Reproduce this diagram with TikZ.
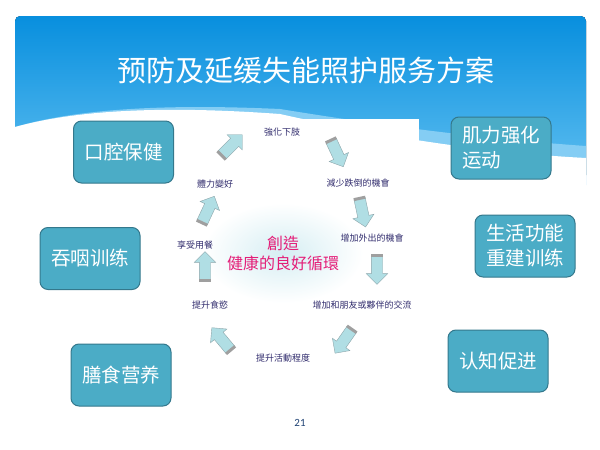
\documentclass[tikz,border=0pt]{standalone}
\usepackage{fontspec}
\usepackage{tikz}
\usetikzlibrary{shapes.arrows}
\newfontfamily\scfont{Noto Sans CJK SC}
\newfontfamily\tcfont{Noto Sans CJK TC}
\newfontfamily\numfont{Carlito}
\definecolor{hdtop}{RGB}{8,143,222}
\definecolor{hdbot}{RGB}{92,189,240}
\definecolor{hdlite}{RGB}{132,205,244}
\definecolor{boxfill}{RGB}{75,172,198}
\definecolor{boxline}{RGB}{52,120,140}
\definecolor{lblc}{RGB}{50,45,110}
\definecolor{pinkc}{RGB}{228,30,120}
\definecolor{arwc}{RGB}{176,222,228}
\definecolor{arwline}{RGB}{140,165,170}
\definecolor{glow}{RGB}{214,238,243}
\definecolor{numc}{RGB}{30,65,115}
\tikzset{box/.style = {draw=boxline, fill=boxfill, line width=1pt, rounded corners=8pt,
                       text=white, font=\scfont\fontsize{19.5}{25}\selectfont,
                       minimum width=100pt, minimum height=62pt, inner sep=0pt}}
\tikzset{lbl/.style = {text=lblc, font=\tcfont\fontsize{9}{11}\selectfont, inner sep=1pt}}
\tikzset{cyc/.style = {single arrow, draw=arwline, fill=arwc, minimum height=29pt,
                       inner xsep=0pt, inner ysep=5.5pt, single arrow head extend=5pt}}
\tikzset{band/.style = {draw=gray!75, line width=3pt}}

\begin{document}
\begin{tikzpicture}[x=1pt, y=-1pt]
      \useasboundingbox (0,0) rectangle (600,450);
      % header
      \fill[top color=hdtop, bottom color=hdbot, rounded corners=5pt] (15,175) -- (15,16) -- (586,16) [sharp corners] -- (586,175) -- cycle;
      \fill[hdlite] (15,127) .. controls (80,108) and (170,104) .. (280,109) .. controls (360,122) and (470,138) .. (586,146) -- (586,185) -- (15,185) -- cycle;
      \fill[white] (15,127) .. controls (80,109) and (170,106) .. (280,114) .. controls (360,132) and (470,152) .. (586,158) -- (586,190) -- (15,190) -- cycle;
      \node[text=white, font=\scfont\fontsize{29}{34}\selectfont] (ttl) at (306,70) {预防及延缓失能照护服务方案};

      % cycle picture
      \fill[white] (172,119) rectangle (419,382);
      \shade[inner color=glow, outer color=white] (283,253) ellipse (80 and 50);
      \node[text=pinkc, font=\tcfont\fontsize{16}{20}\selectfont, align=center] (mid) at (283,253) {創造\\健康的良好循環};

      \node[lbl] (legs) at (282,132) {強化下肢};
      \node[lbl] (fall) at (358,183) {減少跌倒的機會};
      \node[lbl] (out) at (372,238) {增加外出的機會};
      \node[lbl] (talk) at (362,305) {增加和朋友或夥伴的交流};
      \node[lbl] (act) at (283,358) {提升活動程度};
      \node[lbl] (food) at (210,305) {提升食慾};
      \node[lbl] (meal) at (195,245) {享受用餐};
      \node[lbl] (fit) at (215,184) {體力變好};

      \node[cyc, rotate=45] (a1) at (230,147) {};
      \node[cyc, rotate=-65] (a2) at (336,151) {};
      \node[cyc, rotate=-78] (a3) at (362,210) {};
      \node[cyc, rotate=-90] (a4) at (377,267) {};
      \node[cyc, rotate=-125] (a5) at (345,339) {};
      \node[cyc, rotate=130] (a6) at (223,341) {};
      \node[cyc, rotate=90] (a7) at (205,269) {};
      \node[cyc, rotate=65] (a8) at (207,212) {};
      \draw[band] (a1.before tail) -- (a1.after tail);
      \draw[band] (a2.before tail) -- (a2.after tail);
      \draw[band] (a3.before tail) -- (a3.after tail);
      \draw[band] (a4.before tail) -- (a4.after tail);
      \draw[band] (a5.before tail) -- (a5.after tail);
      \draw[band] (a6.before tail) -- (a6.after tail);
      \draw[band] (a7.before tail) -- (a7.after tail);
      \draw[band] (a8.before tail) -- (a8.after tail);

      % boxes
      \node[box] (oral) at (123.5,152) {口腔保健};
      \node[box] (swallow) at (90,258.5) {吞咽训练};
      \node[box] (diet) at (121,375) {膳食营养};
      \node[box, align=left] (muscle) at (501,148) {肌力强化\\运动};
      \node[box, align=center] (life) at (525,246) {生活功能\\重建训练};
      \node[box] (cog) at (498,361) {认知促进};

      \node[text=numc, font=\numfont\fontsize{11}{13}\selectfont] (pg) at (300,423) {21};
\end{tikzpicture}
\end{document}
